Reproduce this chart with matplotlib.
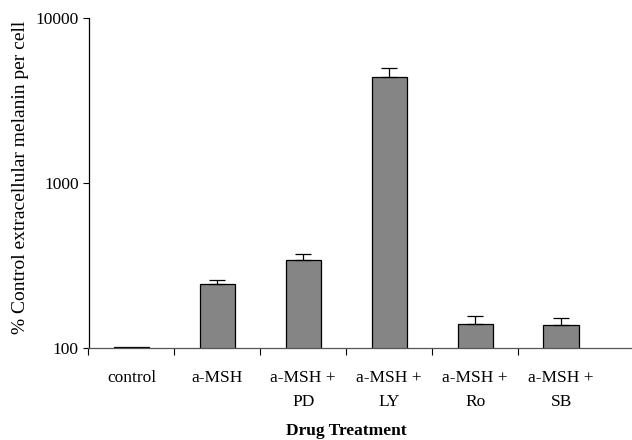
import matplotlib
matplotlib.use("Agg")
import matplotlib.pyplot as plt
import numpy as np

categories = ["control", "a-MSH", "a-MSH +\nPD", "a-MSH +\nLY", "a-MSH +\nRo", "a-MSH +\nSB"]
values = [101, 244, 341, 4390, 140, 138]
errors = [0, 14, 32, 610, 17, 14]

plt.rcParams['font.family'] = ['Liberation Serif', 'DejaVu Serif']

fig = plt.figure(figsize=(6.32, 4.4), dpi=100)
ax = fig.add_axes([88.5/632, (440-348)/440, 1 - 88.5/632, (348-18.5)/440])

x = np.arange(len(categories))
ax.bar(x, values, width=0.41, bottom=0, color='#858585', edgecolor='black', linewidth=0.9, zorder=2)
ax.errorbar(x[1:], values[1:], yerr=[np.zeros(len(x)-1), errors[1:]], fmt='none',
            ecolor='black', elinewidth=0.9, capsize=5.5, capthick=0.9, zorder=3)

ax.set_yscale('log')
ax.set_ylim(100, 10000)
ax.set_xlim(-0.5, 5.5 + 28/86)
ax.set_yticks([100, 1000, 10000])
ax.set_yticklabels(["100", "1000", "10000"], fontsize=12.5)
ax.yaxis.set_minor_locator(matplotlib.ticker.NullLocator())
ax.tick_params(axis='y', direction='out', length=4, width=0.8, pad=3)

ax.set_xticks(x)
ax.set_xticklabels(categories, fontsize=12.5, linespacing=1.65, va='top')
ax.tick_params(axis='x', length=0, pad=16)
ax.set_xticks(np.arange(-0.5, 4.6, 1.0), minor=True)
ax.tick_params(axis='x', which='minor', direction='out', length=5, width=0.8)

for s in ['top', 'right']:
    ax.spines[s].set_visible(False)
ax.spines['left'].set_linewidth(0.9)
ax.spines['bottom'].set_linewidth(0.9)
ax.spines['bottom'].set_color('#555555')

fig.text(21/632, 1 - 177.5/440, "% Control extracellular melanin per cell", fontsize=14,
         rotation=90, ha='center', va='center')
fig.text(346.5/632, 1 - 431/440, "Drug Treatment", fontsize=12.5, fontweight='bold',
         ha='center', va='center')

fig.savefig("out.png", dpi=100)
